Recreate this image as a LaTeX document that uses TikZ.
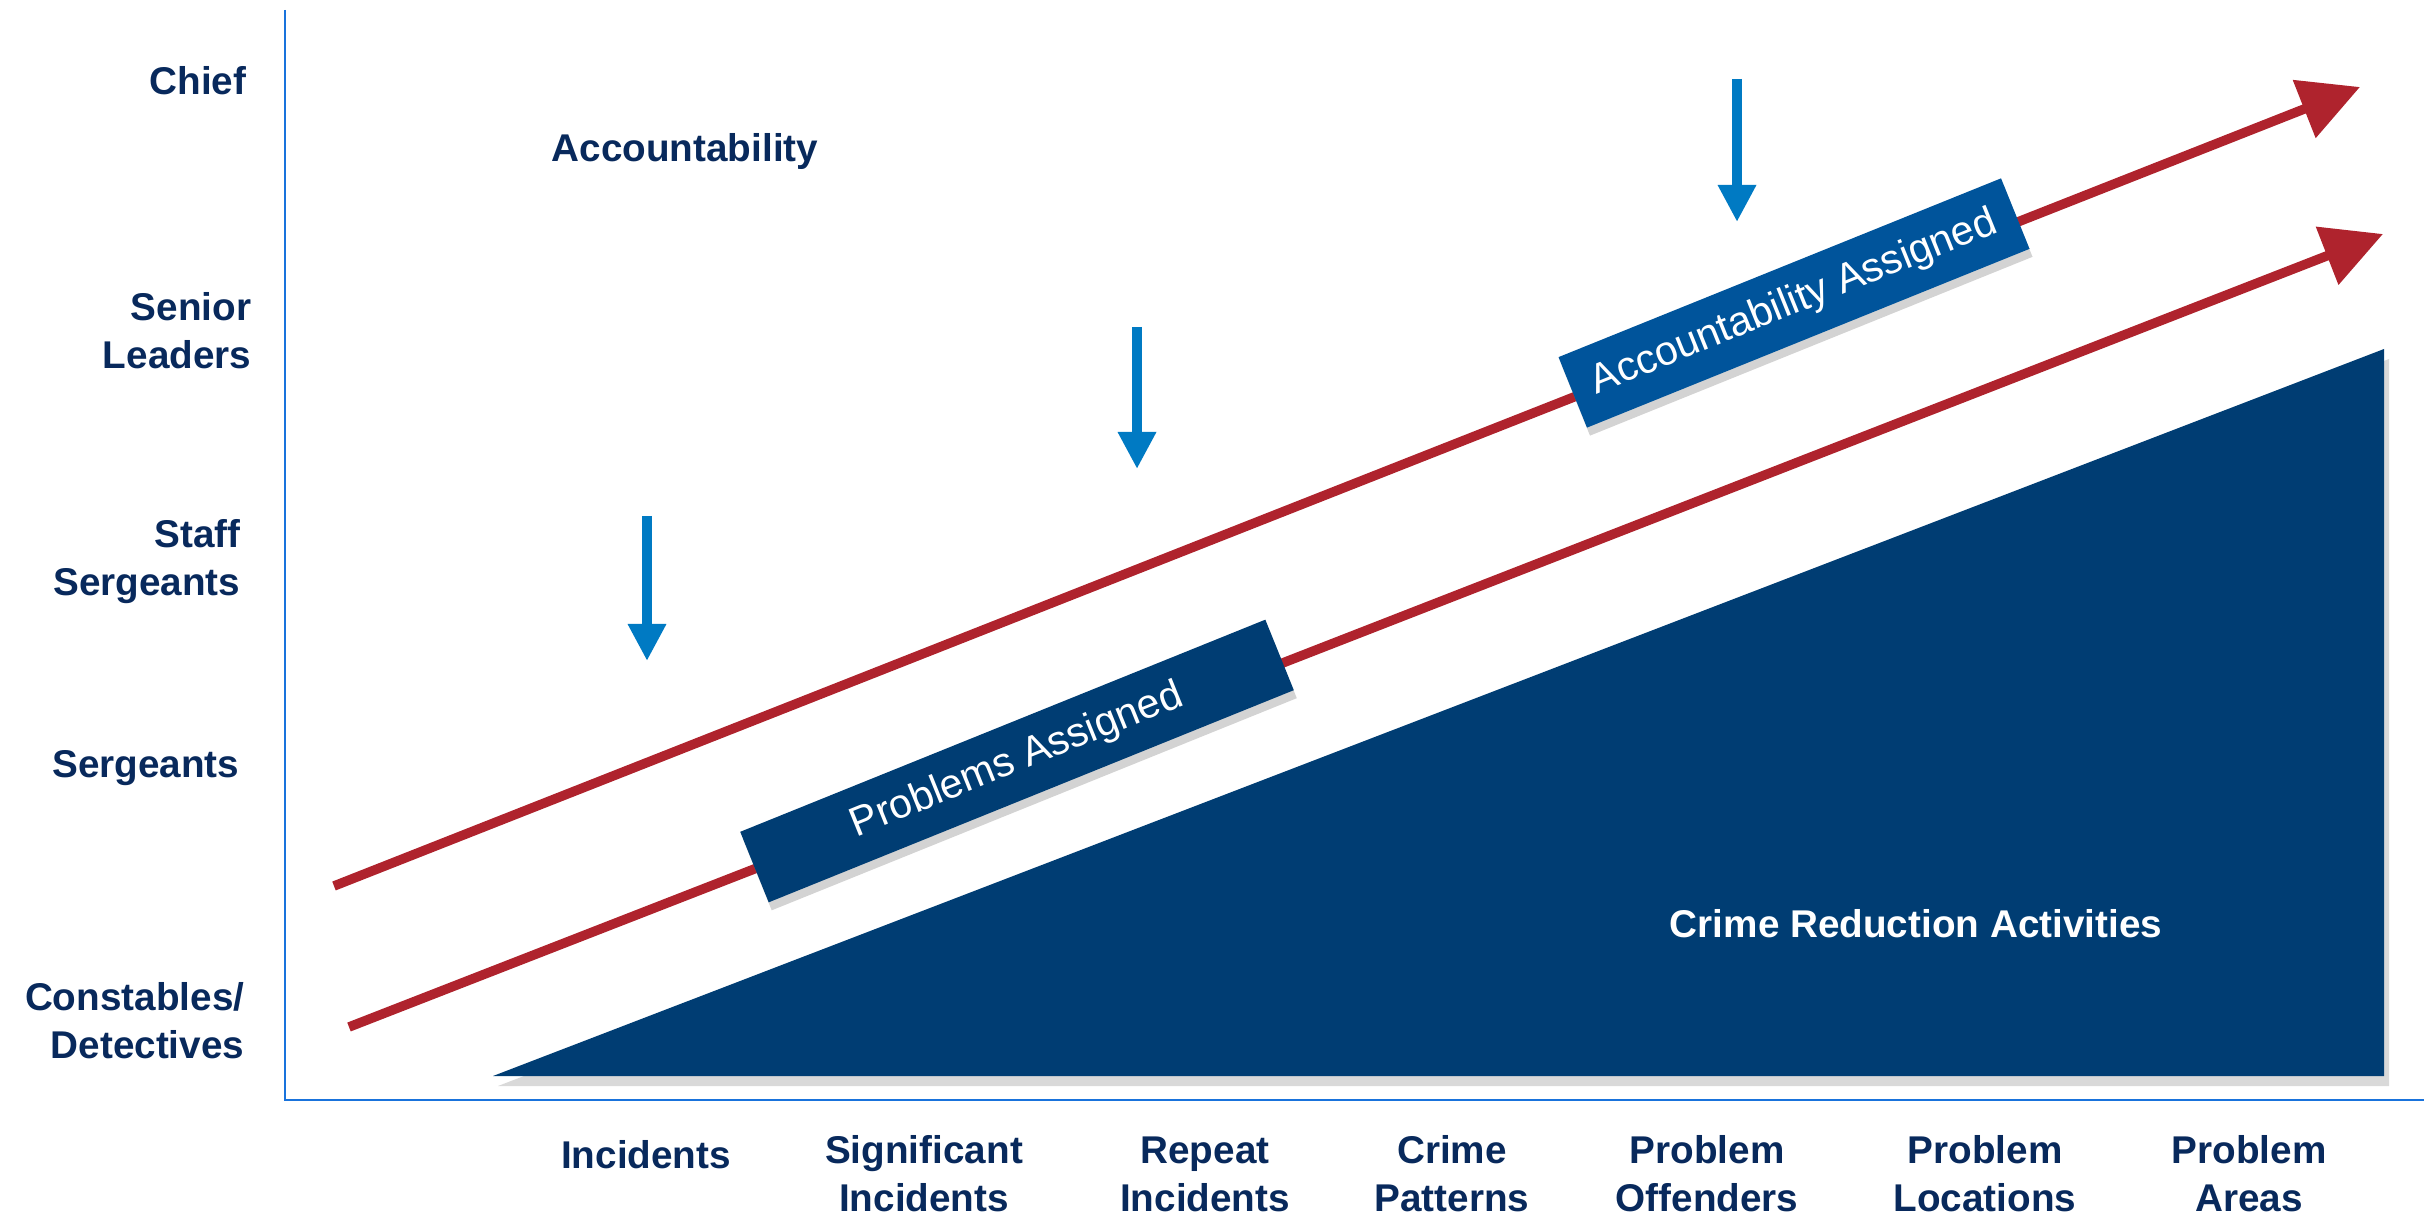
\documentclass[tikz,border=0pt]{standalone}
\usepackage{fontspec}
\setmainfont{Liberation Sans}
\usetikzlibrary{arrows.meta,shadows}

\definecolor{labelnavy}{RGB}{8,41,92}
\definecolor{wedgenavy}{RGB}{0,61,115}
\definecolor{bannerblue}{RGB}{0,84,155}
\definecolor{trackred}{RGB}{175,35,45}
\definecolor{dropblue}{RGB}{0,122,195}
\definecolor{axisblue}{RGB}{25,115,220}

\tikzset{
  level/.style={anchor=east, align=right, inner sep=0pt, text=labelnavy,
    font=\bfseries\fontsize{11}{13.7}\selectfont},
  stage/.style={align=center, inner sep=0pt, text=labelnavy,
    font=\bfseries\fontsize{11}{13.7}\selectfont},
  track/.style={draw=trackred, line width=0.095cm, -{Triangle[length=0.6cm,width=0.6cm]}},
  droparrow/.style={draw=dropblue, line width=0.1cm, -{Triangle[length=0.37cm,width=0.36cm]}},
  banner/.style={rotate=22, minimum height=0.76cm, inner sep=0pt, text=white,
    font=\fontsize{11.7}{14}\selectfont,
    drop shadow={shadow xshift=0.03cm, shadow yshift=-0.08cm, opacity=0.35}},
}

\begin{document}
\begin{tikzpicture}[x=0.01cm, y=0.01cm]
			%%%%% START %%%%%
			\useasboundingbox (0, 0) rectangle (2428, 1215);
			
			% axes
			\coordinate (ytop) at (285, 1205);
			\coordinate (origin) at (285, 115);
			\coordinate (xend) at (2424, 115);
			\draw[axisblue, line width=0.7pt] (ytop) -- (origin) -- (xend);
			
			% crime reduction wedge
			\fill[wedgenavy, drop shadow={shadow xshift=0.05cm, shadow yshift=-0.1cm, opacity=0.3}]
				(493, 139) -- (2384, 139) -- (2384, 866) -- cycle;
			\node[inner sep=0pt, text=white, font=\bfseries\fontsize{11}{13.7}\selectfont] (crimeact) at (1916, 291) {Crime Reduction Activities};
			
			% red tracks
			\coordinate (upfrom) at (334, 329);
			\coordinate (upto) at (2360, 1128);
			\coordinate (lowfrom) at (349, 188);
			\coordinate (lowto) at (2383, 981);
			\draw[track] (upfrom) -- (upto);
			\draw[track] (lowfrom) -- (lowto);
			
			\node[banner, fill=bannerblue, minimum width=4.77cm] (accbox) at (1794, 912) {Accountability Assigned};
			\node[banner, fill=wedgenavy, minimum width=5.66cm] (probbox) at (1017, 454) {Problems Assigned};
			
			% blue drops
			\coordinate (dropAtop) at (647, 699);
			\coordinate (dropAend) at (647, 554);
			\coordinate (dropBtop) at (1137, 888);
			\coordinate (dropBend) at (1137, 746);
			\coordinate (dropCtop) at (1737, 1136);
			\coordinate (dropCend) at (1737, 993);
			\draw[droparrow] (dropAtop) -- (dropAend);
			\draw[droparrow] (dropBtop) -- (dropBend);
			\draw[droparrow] (dropCtop) -- (dropCend);
			
			\node[stage] (acclabel) at (685, 1063) {Accountability};
			
			% ranks
			\node[level] (chief) at (247, 1134) {Chief};
			\node[level] (seniors) at (252, 884) {Senior\\Leaders};
			\node[level] (staffsgt) at (241, 653) {Staff\\Sergeants};
			\node[level] (sgts) at (240, 447) {Sergeants};
			\node[level] (constables) at (245, 194) {Constables/\\Detectives};
			
			% problem stages
			\node[stage] (incidents) at (646, 60) {Incidents};
			\node[stage] (sigincidents) at (924, 41) {Significant\\Incidents};
			\node[stage] (repeats) at (1205, 41) {Repeat\\Incidents};
			\node[stage] (patterns) at (1452, 41) {Crime\\Patterns};
			\node[stage] (offenders) at (1707, 41) {Problem\\Offenders};
			\node[stage] (locations) at (1985, 41) {Problem\\Locations};
			\node[stage] (areas) at (2249, 41) {Problem\\Areas};
			
			%%%%% END %%%%%
		\end{tikzpicture}
\end{document}
